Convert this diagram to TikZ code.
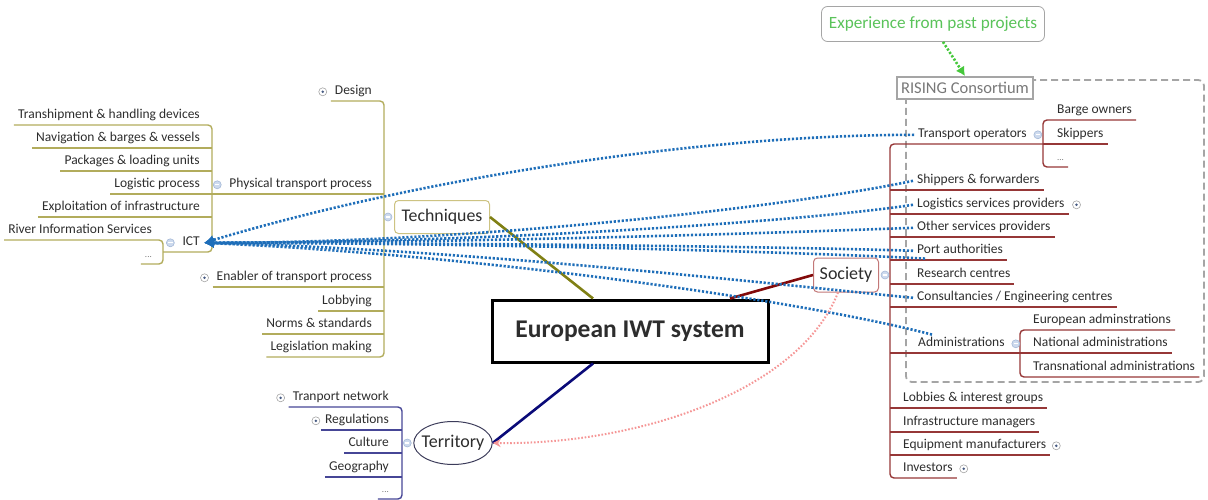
\documentclass[tikz,border=0pt]{standalone}
\usepackage{fontspec}
\setmainfont{Carlito}
\usetikzlibrary{arrows.meta,shapes.geometric}

\definecolor{ink}{RGB}{45,45,45}
\definecolor{techline}{RGB}{178,172,92}
\definecolor{techmain}{RGB}{128,128,20}
\definecolor{techbox}{RGB}{205,195,130}
\definecolor{socline}{RGB}{150,55,55}
\definecolor{socmain}{RGB}{130,10,10}
\definecolor{socbox}{RGB}{195,120,120}
\definecolor{terline}{RGB}{70,70,150}
\definecolor{termain}{RGB}{10,10,120}
\definecolor{terbox}{RGB}{60,60,90}
\definecolor{relblue}{RGB}{30,110,185}
\definecolor{relgreen}{RGB}{70,200,60}
\definecolor{relpink}{RGB}{245,150,150}
\definecolor{greyframe}{RGB}{165,165,165}
\definecolor{greytext}{RGB}{120,120,120}
\definecolor{expgreen}{RGB}{90,195,90}
\definecolor{togfill}{RGB}{205,218,238}
\definecolor{togline}{RGB}{165,185,215}
\definecolor{togdot}{RGB}{70,90,130}

\begin{document}
\begin{tikzpicture}[x=1pt,y=-1pt,
  every node/.style={text=ink},
  lbl/.style={font=\fontsize{13.5}{15}\selectfont, inner xsep=4pt, inner ysep=3pt,
              text height=9pt, text depth=3pt},
  lblL/.style={lbl, anchor=south east},
  lblR/.style={lbl, anchor=south west},
  more/.style={font=\fontsize{9}{10}\selectfont, text=greytext},
  central/.style={draw=black, line width=3pt, fill=white, minimum width=276pt,
                  minimum height=62pt, font=\fontsize{25.5}{28}\selectfont\bfseries},
  techbox/.style={draw=techbox, line width=1pt, rounded corners=4pt, fill=white,
                  minimum width=95pt, minimum height=33pt, font=\fontsize{17.8}{20}\selectfont},
  socbox/.style={draw=socbox, line width=1pt, rounded corners=4pt, fill=white,
                 minimum width=65pt, minimum height=34pt, font=\fontsize{18}{20}\selectfont},
  terbox/.style={ellipse, draw=terbox, line width=1pt, fill=white, inner xsep=-3.6pt,
                 inner ysep=0pt, minimum height=43pt, font=\fontsize{18}{20}\selectfont},
  tog/.style={circle, inner sep=0pt, minimum size=8pt, line width=0.6pt},
  collapse/.style={tog, draw=togline, fill=togfill,
     path picture={\draw[white, line width=1.2pt]
        ([xshift=1.8pt]path picture bounding box.west) --
        ([xshift=-1.8pt]path picture bounding box.east);}},
  expand/.style={tog, draw=greyframe, fill=white,
     path picture={\fill[togdot] (path picture bounding box.center) circle (1.4pt);}},
  tbr/.style={draw=techline, line width=1.4pt, rounded corners=4pt},
  sbr/.style={draw=socline, line width=1.4pt, rounded corners=4pt},
  rbr/.style={draw=terline, line width=1.4pt, rounded corners=4pt},
  relB/.style={relblue, line width=2.6pt, dash pattern=on 2.2pt off 1.8pt,
               -{Latex[length=10pt,width=10pt]}},
  relG/.style={relgreen, line width=2.6pt, dash pattern=on 2.2pt off 1.8pt,
               -{Latex[length=9pt,width=10pt]}},
  relP/.style={relpink, line width=2pt, dash pattern=on 1.6pt off 1.8pt,
               -{Stealth[length=8pt,width=8pt]}},
]
\useasboundingbox (0,0) rectangle (1208,500);

% ---------- bar positions of the sub-trees ----------
\coordinate (tbar) at (384,0);
\coordinate (pbar) at (212,0);
\coordinate (ibar) at (163,0);
\coordinate (rbar) at (402,0);
\coordinate (sbar) at (890,0);
\coordinate (tobar) at (1043,0);
\coordinate (admbar) at (1020,0);

% ---------- consortium frame ----------
\draw[greyframe, line width=1.8pt, dash pattern=on 7pt off 4pt, rounded corners=6pt]
  (906,80) rectangle (1204,382);

% ---------- main topics ----------
\node[central] (iwt) at (630,331) {European IWT system};
\node[techbox] (tech) at (442,217) {Techniques};
\node[socbox] (soc) at (846,275) {Society};
\node[terbox] (terr) at (453,443) {Territory};

\draw[techmain, line width=2.6pt] ([xshift=-37pt]iwt.north) -- (tech.east);
\draw[socmain, line width=2.6pt] ([xshift=100pt]iwt.north) -- (soc.west);
\draw[termain, line width=2.6pt] ([xshift=-37pt]iwt.south) -- (terr.east);

% ---------- Techniques ----------
\node[lblL] (tDesign) at (376,101) {Design};
\node[lblL] (tPhys)   at (376,194) {Physical transport process};
\node[lblL] (tEnab)   at (376,287) {Enabler of transport process};
\node[lblL] (tLobby)  at (376,311) {Lobbying};
\node[lblL] (tNorms)  at (376,334) {Norms \& standards};
\node[lblL] (tLegis)  at (376,357) {Legislation making};

\draw[tbr] (tDesign.south west) -- (tbar |- tDesign.south) -- (tbar |- tLegis.south) -- (tLegis.south west);
\draw[tbr] (pbar |- tPhys.south) -- (tbar |- tPhys.south);
\draw[tbr] (tEnab.south west) -- (tbar |- tEnab.south);
\draw[tbr] (tLobby.south west) -- (tbar |- tLobby.south);
\draw[tbr] (tNorms.south west) -- (tbar |- tNorms.south);

% Physical transport process
\node[lblL] (pTrans) at (204,125) {Transhipment \& handling devices};
\node[lblL] (pNav)   at (204,148) {Navigation \& barges \& vessels};
\node[lblL] (pPack)  at (204,171) {Packages \& loading units};
\node[lblL] (pLog)   at (204,194) {Logistic process};
\node[lblL] (pExpl)  at (204,217) {Exploitation of infrastructure};
\node[lblL] (ict)    at (204,252) {ICT};

\draw[tbr] (pTrans.south west) -- (pbar |- pTrans.south) -- (pbar |- ict.south) -- (ibar |- ict.south);
\draw[tbr] (pNav.south west) -- (pbar |- pNav.south);
\draw[tbr] (pPack.south west) -- (pbar |- pPack.south);
\draw[tbr] (pLog.south west) -- (pbar |- pLog.south);
\draw[tbr] (pExpl.south west) -- (pbar |- pExpl.south);

% ICT
\node[lblL] (iRIS)  at (156,240) {River Information Services};
\node[lblL, more] (iDots) at (156,264) {...};
\draw[tbr] (iRIS.south west) -- (ibar |- iRIS.south) -- (ibar |- iDots.south) -- (iDots.south west);

% ---------- Territory ----------
\node[lblL] (rNet)  at (393,407) {Tranport network};
\node[lblL] (rReg)  at (393,430) {Regulations};
\node[lblL] (rCul)  at (393,453) {Culture};
\node[lblL] (rGeo)  at (393,477) {Geography};
\node[lblL, more] (rDots) at (393,499) {...};

\draw[rbr] (rNet.south west) -- (rbar |- rNet.south) -- (rbar |- rDots.south) -- (rDots.south west);
\draw[rbr] (rReg.south west) -- (rbar |- rReg.south);
\draw[rbr] (rCul.south west) -- (rbar |- rCul.south);
\draw[rbr] (rGeo.south west) -- (rbar |- rGeo.south);

% ---------- Society ----------
\node[lblR] (sTO)   at (914,144) {Transport operators};
\node[lblR] (sShip) at (913,190) {Shippers \& forwarders};
\node[lblR] (sLog)  at (913,214) {Logistics services providers};
\node[lblR] (sOth)  at (913,237) {Other services providers};
\node[lblR] (sPort) at (913,260) {Port authorities};
\node[lblR] (sRes)  at (913,284) {Research centres};
\node[lblR] (sCons) at (913,307) {Consultancies / Engineering centres};
\node[lblR] (sAdm)  at (914,353) {Administrations};
\node[lblR] (sLob)  at (899,408) {Lobbies \& interest groups};
\node[lblR] (sInf)  at (899,432) {Infrastructure managers};
\node[lblR] (sEq)   at (899,455) {Equipment manufacturers};
\node[lblR] (sInv)  at (899,478) {Investors};

\draw[sbr] (tobar |- sTO.south) -- (sbar |- sTO.south) -- (sbar |- sInv.south) -- (sInv.south east);
\foreach \n in {sShip,sLog,sOth,sPort,sRes,sCons,sLob,sInf,sEq}
  \draw[sbr] (sbar |- \n.south) -- (\n.south east);
\draw[sbr] (sbar |- sAdm.south) -- (admbar |- sAdm.south);

% Transport operators
\node[lblR] (oBarge) at (1053,120) {Barge owners};
\node[lblR] (oSkip)  at (1053,144) {Skippers};
\node[lblR, more] (oDots) at (1053,167) {...};
\draw[sbr] (oBarge.south east) -- (tobar |- oBarge.south) -- (tobar |- oDots.south) -- (oDots.south east);
\draw[sbr] (tobar |- oSkip.south) -- (oSkip.south east);

% Administrations
\node[lblR] (aEu)  at (1029,330) {European adminstrations};
\node[lblR] (aNat) at (1029,353) {National administrations};
\node[lblR] (aTr)  at (1029,377) {Transnational administrations};
\draw[sbr] (aEu.south east) -- (admbar |- aEu.south) -- (admbar |- aTr.south) -- (aTr.south east);
\draw[sbr] (admbar |- aNat.south) -- (aNat.south east);

% ---------- consortium label and past experience ----------
\node[draw=greyframe, line width=2pt, fill=white, text=greytext, inner sep=1pt,
      minimum width=136pt, minimum height=22pt, font=\fontsize{16.5}{18}\selectfont]
  (rising) at (965,88) {RISING Consortium};
\node[draw=greyframe, line width=0.8pt, rounded corners=6pt, fill=white, text=expgreen,
      minimum width=223pt, minimum height=35pt, font=\fontsize{17.2}{19}\selectfont]
  (exp) at (933,24) {Experience from past projects};

% ---------- toggles ----------
\node[collapse] (gTech) at ([xshift=-6pt]tech.west) {};
\node[collapse] (gSoc)  at ([xshift=6pt]soc.east) {};
\node[collapse] (gTerr) at ([xshift=-6pt]terr.west) {};
\node[collapse] (gPhys) at ([xshift=-8pt]tPhys.west) {};
\node[collapse] (gIct)  at ([xshift=-8pt]ict.west) {};
\node[collapse] (gTO)   at ([xshift=7pt]sTO.east) {};
\node[collapse] (gAdm)  at ([xshift=7pt]sAdm.east) {};
\node[expand] (gDesign) at ([xshift=-8pt]tDesign.west) {};
\node[expand] (gEnab)   at ([xshift=-8pt]tEnab.west) {};
\node[expand] (gNet)    at ([xshift=-8pt]rNet.west) {};
\node[expand] (gReg)    at ([xshift=-5pt]rReg.west) {};
\node[expand] (gLog)    at ([xshift=8pt]sLog.east) {};
\node[expand] (gEq)     at ([xshift=6pt]sEq.east) {};
\node[expand] (gInv)    at ([xshift=7pt]sInv.east) {};

% ---------- relationships ----------
\draw[relB] (sTO.west)   .. controls (700,135) and (420,178) .. (ict.east);
\draw[relB] (sShip.west) .. controls (800,205) and (480,243) .. (ict.east);
\draw[relB] (sLog.west)  .. controls (800,222) and (480,243) .. (ict.east);
\draw[relB] (sOth.west)  .. controls (800,232) and (480,243) .. (ict.east);
\draw[relB] (sPort.west) .. controls (800,247) and (480,243) .. (ict.east);
\draw[relB] ([xshift=12pt,yshift=7pt]sRes.north west) .. controls (800,252) and (480,243) .. (ict.east);
\draw[relB] (sCons.west) .. controls (780,285) and (480,250) .. (ict.east);
\draw[relB] ([xshift=18pt]sAdm.north west) .. controls (800,300) and (480,255) .. (ict.east);

\draw[relG] ([xshift=10pt]exp.south) -- (rising.north);
\draw[relP] ([xshift=-8pt]soc.south) .. controls (800,390) and (640,445) .. (terr.east);
\end{tikzpicture}
\end{document}
